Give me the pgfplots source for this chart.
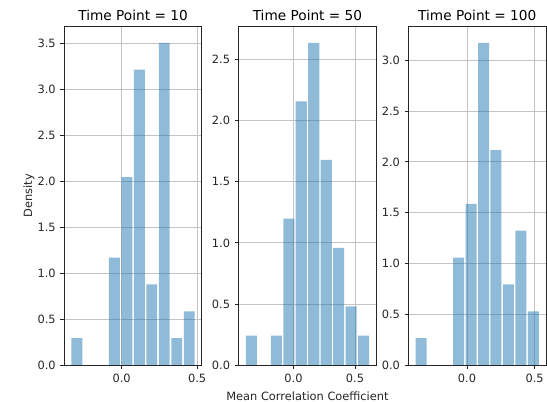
\documentclass[border=0pt]{standalone}
\usepackage{fontspec}
\setmainfont{DejaVu Sans}
\usepackage{pgfplots}
\pgfplotsset{compat=1.18}
\definecolor{barblue}{HTML}{1F77B4}
\definecolor{gridgray}{HTML}{C4C4C4}
\pgfplotsset{
  hist/.style={
    scale only axis, width=103pt, height=253.7pt,
    anchor=south west,
    ymin=0,
    grid=major,
    grid style={gridgray, line width=0.6pt},
    axis line style={line width=0.6pt, black!85},
    tick align=outside,
    tick pos=left,
    major tick length=3pt,
    tick style={line width=0.6pt, black!85},
    xtick={0,0.5},
    ytick distance=0.5,
    /pgf/number format/.cd, fixed, fixed zerofill, precision=1, assume math mode=true,
    /pgfplots/.cd,
    tick label style={font=\fontsize{8.55}{10}\selectfont, text=black!85},
    label style={font=\fontsize{8.55}{10}\selectfont, text=black!85},
    title style={font=\fontsize{10.26}{12}\selectfont, yshift=-5pt},
    ylabel shift=-4.5pt,
  },
  bars/.style={ybar, bar shift=0pt, fill=barblue, fill opacity=0.5, draw=none},
}
\begin{document}
\begin{tikzpicture}
\useasboundingbox (0,0) rectangle (410.25pt,301.5pt);
% Panel 1
\begin{axis}[hist, at={(48.3pt,27.75pt)},
  xmin=-0.3794, xmax=0.5304, ymax=3.6855,
  title={Time Point = 10}, ylabel={Density}]
\addplot[bars, bar width=0.0722] coordinates {
(-0.29665,0.2925) (-0.04855,1.170) (0.03415,2.0475) (0.11685,3.2175)
(0.19955,0.8775) (0.28225,3.51) (0.36495,0.2925) (0.44765,0.585)};
\end{axis}
% Panel 2
\begin{axis}[hist, at={(179.1pt,27.75pt)},
  xmin=-0.4448, xmax=0.6723, ymax=2.770,
  title={Time Point = 50}, xlabel={Mean Correlation Coefficient}]
\addplot[bars, bar width=0.0897] coordinates {
(-0.3432,0.2398) (-0.1400,0.2398) (-0.0384,1.199) (0.0632,2.158)
(0.1648,2.638) (0.2664,1.679) (0.3680,0.959) (0.4696,0.480) (0.5712,0.2398)};
\end{axis}
% Panel 3
\begin{axis}[hist, at={(306.45pt,27.75pt)},
  xmin=-0.4316, xmax=0.5831, ymax=3.331,
  title={Time Point = 100}]
\addplot[bars, bar width=0.0812] coordinates {
(-0.3394,0.2644) (-0.0626,1.0576) (0.0296,1.5864) (0.1219,3.1728)
(0.2141,2.1152) (0.3064,0.7932) (0.3986,1.322) (0.4909,0.5288)};
\end{axis}
\end{tikzpicture}
\end{document}
